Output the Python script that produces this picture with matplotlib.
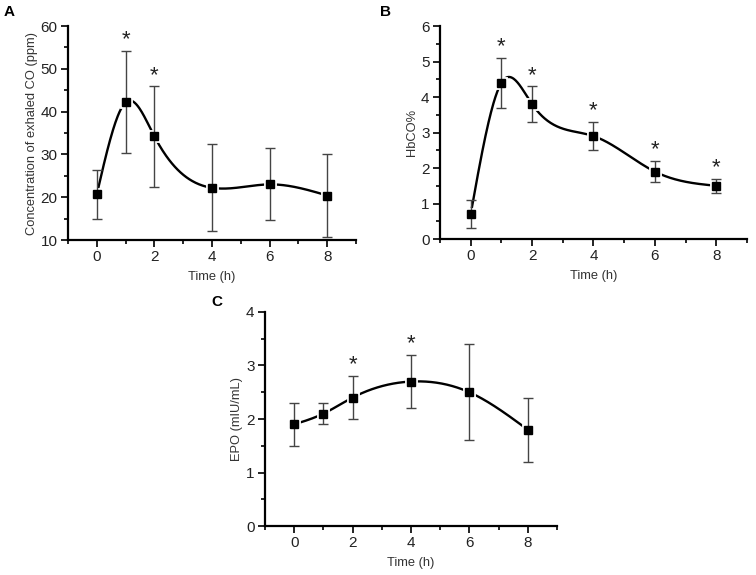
import numpy as np
import matplotlib
matplotlib.use('Agg')
import matplotlib.pyplot as plt
from matplotlib.ticker import MultipleLocator

plt.rcParams['font.family'] = ['Liberation Sans', 'DejaVu Sans']

# ── data ──────────────────────────────────────────────
time_a = [0, 1, 2, 4, 6, 8]
co_mean = [20.7, 42.2, 34.2, 22.2, 23.0, 20.4]
co_err = [5.7, 11.9, 11.7, 10.2, 8.4, 9.8]
co_sig = [1, 2]

time_b = [0, 1, 2, 4, 6, 8]
hbco_mean = [0.7, 4.4, 3.8, 2.9, 1.9, 1.5]
hbco_err = [0.4, 0.7, 0.5, 0.4, 0.3, 0.2]
hbco_sig = [1, 2, 4, 6, 8]

time_c = [0, 1, 2, 4, 6, 8]
epo_mean = [1.9, 2.1, 2.4, 2.7, 2.5, 1.8]
epo_err = [0.4, 0.2, 0.4, 0.5, 0.9, 0.6]
epo_sig = [2, 4]


def natural_spline(x, y, n=400):
    """Natural cubic spline through the points (like Origin's spline line)."""
    x = np.asarray(x, float)
    y = np.asarray(y, float)
    k = len(x)
    h = np.diff(x)
    A = np.zeros((k, k))
    r = np.zeros(k)
    A[0, 0] = A[-1, -1] = 1
    for i in range(1, k - 1):
        A[i, i - 1] = h[i - 1]
        A[i, i] = 2 * (h[i - 1] + h[i])
        A[i, i + 1] = h[i]
        r[i] = 6 * ((y[i + 1] - y[i]) / h[i] - (y[i] - y[i - 1]) / h[i - 1])
    m = np.linalg.solve(A, r)
    xs = np.linspace(x[0], x[-1], n)
    idx = np.clip(np.searchsorted(x, xs) - 1, 0, k - 2)
    x0, x1 = x[idx], x[idx + 1]
    hh = x1 - x0
    t0 = x1 - xs
    t1 = xs - x0
    ys = (m[idx] * t0 ** 3 + m[idx + 1] * t1 ** 3) / (6 * hh) \
        + (y[idx] / hh - m[idx] * hh / 6) * t0 \
        + (y[idx + 1] / hh - m[idx + 1] * hh / 6) * t1
    return xs, ys


def draw_panel(ax, x, mean, err, sig, ylim, ystep, ylabel):
    xs, ys = natural_spline(x, mean)
    ax.plot(xs, ys, color='black', lw=1.7, zorder=2)
    # white halo around markers gives the small gap in the line
    ax.plot(x, mean, 's', ms=5.5, mfc='white', mec='white', mew=3.5, zorder=3, ls='none')
    ax.errorbar(x, mean, yerr=err, fmt='none', ecolor='#444444', elinewidth=1,
                capsize=3.5, capthick=1, zorder=4)
    ax.plot(x, mean, 's', ms=5.2, color='black', zorder=5, ls='none')
    for xi in sig:
        i = x.index(xi)
        ax.annotate('*', xy=(xi, mean[i] + err[i]), xytext=(0, 0.5),
                    textcoords='offset points', ha='center', va='bottom',
                    fontsize=16, color='#222222')

    ax.set_xlim(-1, 9)
    ax.set_ylim(*ylim)
    ax.xaxis.set_major_locator(MultipleLocator(2))
    ax.xaxis.set_minor_locator(MultipleLocator(1))
    ax.yaxis.set_major_locator(MultipleLocator(ystep))
    ax.yaxis.set_minor_locator(MultipleLocator(ystep / 2))
    ax.set_xticks([0, 2, 4, 6, 8])
    for s in ['top', 'right']:
        ax.spines[s].set_visible(False)
    for s in ['left', 'bottom']:
        ax.spines[s].set_linewidth(1.6)
    ax.tick_params(which='major', direction='out', length=5, width=1.4, labelsize=11,
                   colors='#222222', pad=2.5)
    ax.tick_params(which='minor', direction='out', length=3, width=1.2)
    ax.set_xlabel('Time (h)', fontsize=9.3, color='#333333', labelpad=5)
    ax.set_ylabel(ylabel, fontsize=9.3, color='#333333', labelpad=2)


fig = plt.figure(figsize=(7.56, 5.75), dpi=100)

ax_a = fig.add_axes([0.090, 0.5826, 0.381, 0.372])
draw_panel(ax_a, time_a, co_mean, co_err, co_sig, (10, 60), 10,
           'Concentration of exhaled CO (ppm)')

ax_b = fig.add_axes([0.582, 0.5843, 0.406, 0.3704])
draw_panel(ax_b, time_b, hbco_mean, hbco_err, hbco_sig, (0, 6), 1, 'HbCO%')

ax_c = fig.add_axes([0.3505, 0.0852, 0.3862, 0.3722])
draw_panel(ax_c, time_c, epo_mean, epo_err, epo_sig, (0, 4), 1, 'EPO (mIU/mL)')

fig.text(4 / 756, 1 - 12 / 575, 'A', fontsize=11, fontweight='bold', va='center')
fig.text(380 / 756, 1 - 12 / 575, 'B', fontsize=11, fontweight='bold', va='center')
fig.text(211 / 756, 1 - 302 / 575, 'C', fontsize=11, fontweight='bold', va='center')

fig.savefig('out.png', dpi=100)
